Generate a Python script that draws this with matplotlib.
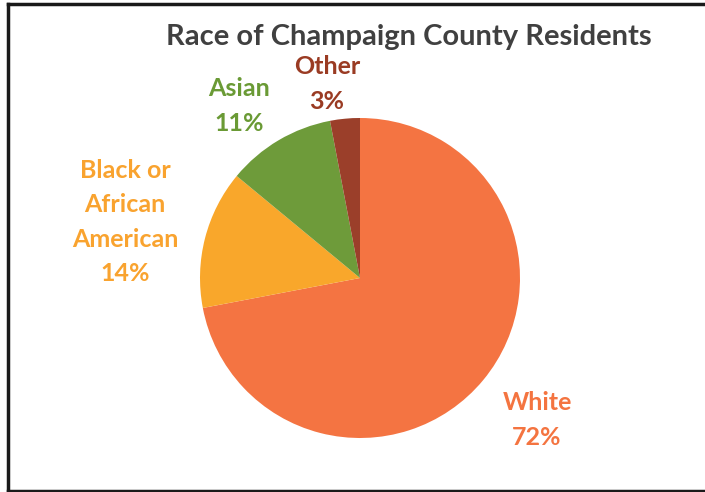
import matplotlib.pyplot as plt
from matplotlib.lines import Line2D

plt.rcParams['font.family'] = ['Lato', 'DejaVu Sans']

# data
races = ['White', 'Black or\nAfrican\nAmerican', 'Asian', 'Other']
shares = [72, 14, 11, 3]
colors = ['#F47442', '#F9A72B', '#6E9B3A', '#9B3F2A']
text_colors = ['#F47440', '#F9A32F', '#6A9A35', '#9A3B23']

W, H = 705, 492
fig = plt.figure(figsize=(W / 100, H / 100), dpi=100)

# pie centred at about (360, 278) px, radius 160 px
cx, cy, r = 360, 278, 160
ax = fig.add_axes([(cx - r) / W, (H - cy - r) / H, 2 * r / W, 2 * r / H])
ax.pie(shares, colors=colors, startangle=90, counterclock=False,
       wedgeprops=dict(linewidth=0))
ax.set_xlim(-1, 1)
ax.set_ylim(-1, 1)
ax.set_aspect('equal')
ax.axis('off')

fig.text(409 / W, 1 - 37 / H, 'Race of Champaign County Residents',
         ha='center', va='center', fontsize=21, fontweight='bold', color='#404040')

# label spots in pixel coords (x, y of label block centre)
spots = [(537, 420), (125, 222), (239, 106), (327, 84)]
for name, val, col, (x, y) in zip(races, shares, text_colors, spots):
    fig.text(x / W, 1 - y / H, f'{name}\n{val}%', ha='center', va='center',
             fontsize=18, fontweight='bold', color=col, linespacing=1.6)

# frame (right edge is cropped in the original)
k = dict(color='#1a1a1a', linewidth=2.5, transform=fig.transFigure)
fig.add_artist(Line2D([7.5 / W, 7.5 / W], [1 - 4 / H, 1 - 490.5 / H], **k))
fig.add_artist(Line2D([7.5 / W, 1], [1 - 4 / H, 1 - 4 / H], **k))
fig.add_artist(Line2D([7.5 / W, 1], [1 - 490.5 / H, 1 - 490.5 / H], **k))

fig.savefig('out.png', dpi=100)
